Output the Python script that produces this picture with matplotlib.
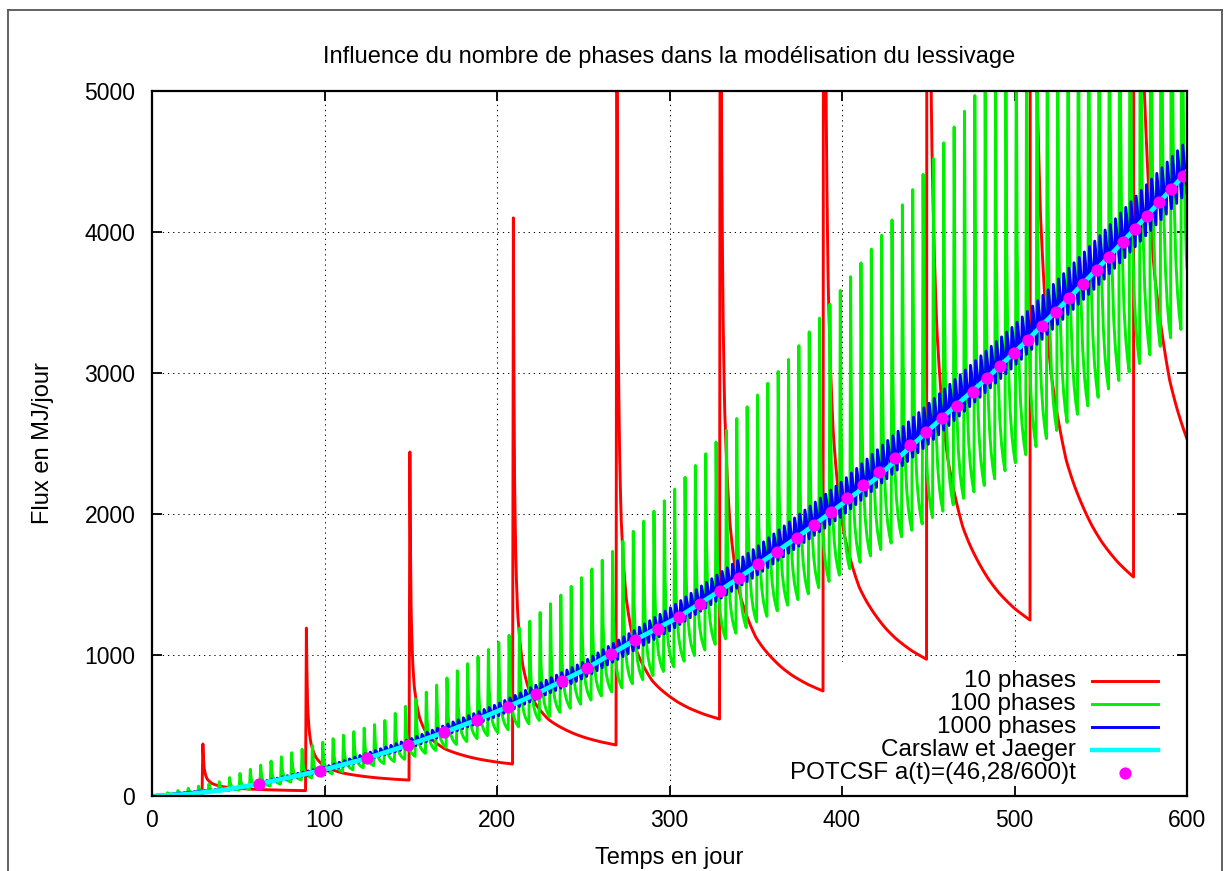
import numpy as np
import matplotlib
matplotlib.use("Agg")
import matplotlib.pyplot as plt
from matplotlib.lines import Line2D
from matplotlib.patches import Rectangle

plt.rcParams['font.family'] = ['Liberation Sans', 'DejaVu Sans']

# ---------------- data ----------------
title = "Influence du nombre de phases dans la modélisation du lessivage"
xlabel = "Temps en jour"
ylabel = "Flux en MJ/jour"
x_ticks = [0, 100, 200, 300, 400, 500, 600]
y_ticks = [0, 1000, 2000, 3000, 4000, 5000]
series_labels = ["10 phases", "100 phases", "1000 phases",
                 "Carslaw et Jaeger", "POTCSF a(t)=(46,28/600)t"]

# Carslaw et Jaeger (smooth curve)
cj_t = [0, 20, 40, 62, 97.4, 124.5, 148.6, 169.5, 188.2, 206.6, 222.6, 250,
        280, 305.7, 329.3, 351.5, 373.7, 383.8, 420, 457.8, 483.9, 507.6,
        531.8, 554.8, 576.6, 597.9, 600]
cj_v = [0, 12, 40, 85, 179, 267, 362, 452, 539, 634, 723, 891,
        1106, 1272, 1456, 1643, 1832, 1922, 2255, 2679, 2962, 3234,
        3534, 3825, 4113, 4399, 4430]

# POTCSF points
pot_t = [62, 97.4, 124.5, 148.6, 169.5, 188.2, 206.6, 222.6, 237.8, 252.3,
         266.3, 280, 293.5, 305.7, 317.7, 329.3, 340.5, 351.5, 362.5, 373.7,
         383.8, 393.4, 402.8, 412.1, 421.4, 430.6, 439.7, 448.8, 457.8, 466.9,
         475.8, 483.9, 491.6, 499.9, 507.6, 515.8, 523.9, 531.8, 539.5, 547.6,
         554.8, 562.7, 569.9, 576.6, 583.8, 590.7, 597.9]
pot_v = [85, 179, 267, 362, 452, 539, 634, 723, 815, 910,
         1005, 1106, 1182, 1272, 1362, 1456, 1548, 1643, 1732, 1832,
         1922, 2015, 2110, 2205, 2300, 2395, 2490, 2585, 2679, 2766,
         2867, 2962, 3050, 3144, 3234, 3335, 3430, 3534, 3631, 3730,
         3825, 3927, 4019, 4113, 4210, 4303, 4399]

# 10 phases: spike times, spike tops and value at the end of each phase
red_spike_t = [29, 89, 149, 209, 269, 329, 389, 449, 509, 569]
red_peak = [369, 1191, 2440, 4100, 6200, 8700, 11600, 15000, 18800, 23000]
red_end = [38, 113, 227, 362, 546, 745, 970, 1248, 1553, 1934]
red_period = 60
# shape of one decay (fraction of phase, fraction of peak-end excess)
red_profile_s = [0.0083, 0.02, 0.035, 0.05, 0.075, 0.1, 0.15, 0.2, 0.275,
                 0.35, 0.425, 0.5, 0.6, 0.7, 0.85, 1.0]
red_profile_f = [1.0, 0.5, 0.33, 0.25, 0.19, 0.15, 0.11, 0.085, 0.064,
                 0.048, 0.038, 0.03, 0.021, 0.014, 0.006, 0.0]

# 100 phases: envelopes of spike tops and phase-end values
green_first_spike = 2.5
green_period = 6
green_n = 100
green_peak_t = [0, 39, 81, 134, 219, 266, 296, 368, 422, 446, 476, 540, 600]
green_peak_v = [0, 101, 307, 527, 1240, 1723, 2080, 3080, 3960, 4390, 4950, 6100, 7500]
green_end_t = [0, 60, 145, 223, 300, 379.5, 397, 456.8, 487.6, 536, 565.8, 596, 610]
green_end_v = [0, 50, 255, 528, 900, 1426, 1555, 2007, 2241, 2702, 3000, 3305, 3420]
green_profile_s = [0.083, 0.167, 0.25, 0.333, 0.5, 0.667, 0.833, 1.0]
green_profile_f = [1.0, 0.52, 0.336, 0.235, 0.125, 0.065, 0.027, 0.0]

# 1000 phases (seen as a 3-day aliased band): upper and lower envelopes
blue_t = [0, 50, 100, 150, 200, 250, 300, 350, 400, 450, 500, 550, 600]
blue_hi = [0, 62, 205, 405, 650, 950, 1330, 1760, 2230, 2780, 3340, 3980, 4650]
blue_lo = [0, 50, 172, 345, 565, 835, 1170, 1560, 1985, 2495, 3050, 3640, 4280]
blue_visible_period = 3

t_max = 600


# ---------------- build curves ----------------
def build_phases(spikes, peaks, ends, period, prof_s, prof_f, dense=0):
    prof_s = np.asarray(prof_s, float)
    prof_f = np.asarray(prof_f, float)
    if dense:
        s_draw = np.exp(np.linspace(np.log(prof_s[0]), 0.0, dense))
        f_draw = np.interp(np.log(s_draw), np.log(prof_s), prof_f)
    else:
        s_draw, f_draw = prof_s, prof_f
    tt = [0.0, spikes[0]]
    vv = [0.0, 0.0]
    for s0, pk, en in zip(spikes, peaks, ends):
        tt.extend(s0 + s_draw * period)
        vv.extend(en + f_draw * (pk - en))
    tt = np.array(tt)
    vv = np.array(vv)
    v_end = np.interp(t_max, tt, vv)
    keep = tt < t_max
    return np.append(tt[keep], t_max), np.append(vv[keep], v_end)


red_t, red_v = build_phases(red_spike_t, red_peak, red_end, red_period,
                            red_profile_s, red_profile_f, dense=160)

g_spikes = [green_first_spike + green_period * k for k in range(green_n)]
g_peaks = [np.interp(s + 0.5, green_peak_t, green_peak_v) for s in g_spikes]
g_ends = [np.interp(s + green_period, green_end_t, green_end_v) for s in g_spikes]
green_t, green_v = build_phases(g_spikes, g_peaks, g_ends, green_period,
                                green_profile_s, green_profile_f)

b_t, b_v = [], []
for k in range(int(t_max / blue_visible_period)):
    t0 = k * blue_visible_period
    b_t += [t0, t0 + 0.5]
    b_v += [np.interp(t0, blue_t, blue_lo), np.interp(t0 + 0.5, blue_t, blue_hi)]
b_t.append(t_max)
b_v.append(np.interp(t_max, blue_t, blue_lo))

# ---------------- figure ----------------
W, H = 1226, 871
fig = plt.figure(figsize=(W / 100, H / 100), dpi=100)
ax = fig.add_axes([152 / W, 75 / H, 1035 / W, 705 / H])
ax.set_xlim(0, 600)
ax.set_ylim(0, 5000)

RED, GREEN, BLUE, CYAN, MAG = '#ff0000', '#00f000', '#0000ff', '#00ffff', '#ff00ff'

# grid (dotted)
for xt in x_ticks[1:-1]:
    ax.axvline(xt, color='black', lw=0.7, ls=(0, (1.3, 4)), zorder=1)
for yt in y_ticks[1:-1]:
    ax.axhline(yt, color='black', lw=0.7, ls=(0, (1.3, 4)), zorder=1)

ax.plot(red_t, red_v, color=RED, lw=2.1, zorder=2)
ax.plot(green_t, green_v, color=GREEN, lw=2.1, zorder=2.1)
ax.plot(b_t, b_v, color=BLUE, lw=2.1, zorder=2.2)
ax.plot(cj_t, cj_v, color=CYAN, lw=3.4, zorder=2.3)
ax.plot(pot_t, pot_v, 'o', color=MAG, ms=8.8, mec='none', zorder=2.4)

ax.set_xticks(x_ticks)
ax.set_yticks(y_ticks)
ax.tick_params(direction='in', length=7, width=1.3, top=True, right=True,
               labelsize=16.5, colors='black')
ax.tick_params(axis='x', pad=9)
ax.tick_params(axis='y', pad=12)
for sp in ax.spines.values():
    sp.set_linewidth(1.6)

ax.set_xlabel(xlabel, fontsize=17, labelpad=11)
ax.set_ylabel(ylabel, fontsize=17, labelpad=22)
fig.text(669.5 / W, 1 - 57 / H, title, fontsize=17, ha='center', va='center')

# legend (gnuplot style: right-justified text, sample on the right)
ax.add_patch(Rectangle((0.592, 0.003), 0.405, 0.187, transform=ax.transAxes,
                       facecolor='white', edgecolor='none', zorder=1.5))
rows_y = [0.1631, 0.1305, 0.0979, 0.0652, 0.0326]
styles = [(RED, 2.1), (GREEN, 2.1), (BLUE, 2.1), (CYAN, 3.2)]
for i, lab in enumerate(series_labels):
    y = rows_y[i]
    ax.text(0.8928, y, lab, transform=ax.transAxes, ha='right', va='center',
            fontsize=17.5, zorder=6)
    if i < 4:
        c, lw = styles[i]
        ax.add_line(Line2D([0.908, 0.972], [y, y], transform=ax.transAxes,
                           color=c, lw=lw, zorder=6))
    else:
        ax.add_line(Line2D([0.940], [y], transform=ax.transAxes, marker='o',
                           color=MAG, ms=8.8, mec='none', ls='none', zorder=6))

# outer page frame
fc = '#555555'
fig.add_artist(Line2D([8 / W, 8 / W], [0, 1 - 10 / H], color=fc, lw=1.3))
fig.add_artist(Line2D([8 / W, 1222 / W], [1 - 10 / H, 1 - 10 / H], color=fc, lw=1.3))
fig.add_artist(Line2D([1222 / W, 1222 / W], [0, 1 - 10 / H], color=fc, lw=1.3))

fig.savefig("out.png", dpi=100)
